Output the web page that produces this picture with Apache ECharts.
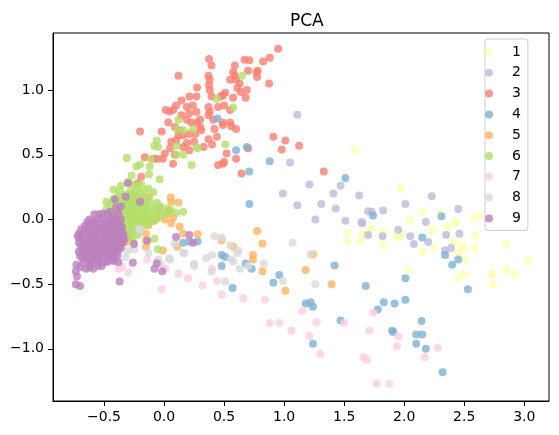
<!DOCTYPE html>
<html>
<head>
<meta charset="utf-8">
<script src="https://cdn.jsdelivr.net/npm/echarts@6/dist/echarts.min.js"></script>
<style>
  html, body { margin: 0; padding: 0; background: #fff; }
  #main { width: 559px; height: 435px; }
</style>
</head>
<body>
<div id="main"></div>
<script>
// class labels and colours (Set3)
var classNames = ['1', '2', '3', '4', '5', '6', '7', '8', '9'];
var classColors = ['#ffffb3', '#bebada', '#fb8072', '#80b1d3', '#fdb462',
                   '#b3de69', '#fccde5', '#d9d9d9', '#bc80bd'];

var xTicks = [-0.5, 0, 0.5, 1, 1.5, 2, 2.5, 3];
var yTicks = [-1, -0.5, 0, 0.5, 1];

// PCA coordinates per class
var cls1 = [[1.59,0.54],[1.97,0.24],[2.15,0.06],[2.30,0.05],[2.05,0.0],[2.43,-0.02],[2.58,0.01],
  [2.62,0.03],[1.725,-0.07],[1.525,-0.10],[1.525,-0.17],[1.63,-0.17],[1.66,-0.11],[1.825,-0.10],
  [1.83,-0.20],[1.94,-0.13],[1.96,-0.14],[2.24,-0.08],[2.36,-0.06],[2.25,-0.22],[2.15,-0.25],
  [2.41,-0.17],[2.50,-0.22],[2.59,-0.12],[2.59,-0.22],[2.45,-0.26],[2.51,-0.31],[2.04,-0.39],
  [2.45,-0.45],[2.50,-0.42],[2.73,-0.43],[2.74,-0.42],[2.74,-0.50],[2.85,-0.19],[2.85,-0.39],
  [2.92,-0.42],[3.03,-0.32],[2.42,-0.03],[1.98,-0.11],[1.69,-0.12],[2.47,-0.20]];

var cls2 = [[1.11,0.81],[1.05,0.44],[0.99,0.20],[1.11,0.11],[1.21,0.27],[1.31,0.12],[1.41,0.20],
  [1.47,0.26],[1.43,0.085],[1.625,0.185],[1.70,0.064],[1.73,0.06],[1.825,0.07],[2.01,0.12],
  [2.23,0.18],[2.45,0.08],[1.26,0.0],[1.51,-0.01],[1.645,-0.02],[1.65,-0.03],[1.70,-0.12],
  [1.82,-0.13],[1.95,-0.08],[2.05,-0.13],[2.08,-0.19],[2.20,-0.175],[2.18,-0.02],[2.35,-0.12],
  [2.46,-0.11],[2.34,-0.24],[2.39,-0.22]];

var cls3 = [[0.95,1.32],[0.88,1.25],[0.825,1.22],[0.71,1.23],[0.67,1.235],[0.375,1.24],[0.395,1.19],
  [0.59,1.19],[0.78,1.15],[0.77,1.135],[0.70,1.15],[0.575,1.14],[0.59,1.11],[0.12,1.11],[0.37,1.11],
  [0.38,1.08],[0.375,1.04],[0.55,1.08],[0.60,1.08],[0.775,1.10],[0.875,1.05],[0.63,1.05],[0.275,1.02],
  [0.38,1.0],[0.61,1.016],[0.64,0.985],[0.69,1.0],[0.51,0.98],[0.49,0.96],[0.47,0.95],[0.395,0.95],
  [0.27,0.95],[0.21,0.95],[0.575,0.94],[0.68,0.94],[0.145,0.92],[0.10,0.88],[0.075,0.845],[0.19,0.87],
  [0.24,0.88],[0.37,0.87],[0.38,0.83],[0.45,0.87],[0.50,0.88],[0.55,0.845],[0.014,0.845],[0.047,0.835],
  [0.145,0.805],[0.21,0.82],[0.27,0.83],[0.30,0.77],[0.275,0.75],[0.23,0.75],[0.19,0.77],[0.035,0.75],
  [0.37,0.805],[0.41,0.77],[0.42,0.70],[0.49,0.75],[0.49,0.73],[0.55,0.75],[0.56,0.72],[0.60,0.70],
  [-0.02,0.68],[0.09,0.715],[0.13,0.69],[0.16,0.65],[0.21,0.66],[0.30,0.715],[0.31,0.69],[0.37,0.62],
  [0.44,0.64],[0.10,0.61],[0.06,0.60],[0.19,0.59],[0.05,0.55],[0.09,0.50],[0.16,0.56],[0.21,0.535],
  [0.006,0.51],[-0.01,0.47],[-0.06,0.47],[0.075,0.43],[0.52,0.51],[0.49,0.43],[0.45,0.42],[0.60,0.47],
  [0.645,0.355],[0.91,0.64],[0.98,0.54],[1.01,0.61],[-0.20,0.68],[-0.16,0.48],[-0.09,0.47],[-0.19,0.33],
  [1.125,0.57],[1.33,0.37],[0.50,0.445],[0.70,0.55],[-0.22,0.28],[0.25,0.60],[0.33,0.56],[0.40,0.58],
  [0.12,0.65],[0.26,0.66]];

var cls4 = [[0.445,0.78],[0.60,0.535],[0.69,0.56],[0.88,0.45],[0.71,0.37],[0.71,0.12],[0.28,-0.17],
  [0.16,-0.18],[0.21,-0.17],[0.48,-0.275],[0.51,-0.29],[0.48,-0.36],[0.68,-0.34],[0.73,-0.38],
  [0.57,-0.53],[0.96,-0.43],[0.91,-0.49],[1.42,-0.355],[1.18,-0.65],[1.22,-0.64],[1.24,-0.675],
  [1.47,-0.78],[1.24,-0.96],[1.68,-0.515],[2.01,-0.455],[2.53,-0.54],[1.83,-0.64],[1.92,-0.65],
  [1.78,-0.695],[2.01,-0.62],[1.90,-0.86],[1.91,-0.87],[2.145,-0.785],[2.10,-0.89],[2.15,-0.89],
  [2.10,-0.96],[2.18,-1.0],[2.32,-1.18],[1.51,0.32],[1.74,0.03],[2.31,0.025],[2.15,-0.14],
  [2.34,-0.275],[2.45,-0.31],[2.40,-0.35]];

var cls5 = [[-0.125,0.175],[0.056,0.17],[0.06,0.135],[0.12,0.13],[0.033,0.046],[0.04,0.07],[0.075,0.015],
  [0.006,0.0],[0.06,-0.03],[0.13,-0.057],[-0.09,-0.01],[-0.06,0.008],[-0.15,-0.11],[-0.15,-0.21],
  [-0.33,-0.165],[-0.30,-0.17],[-0.13,-0.045],[-0.01,-0.24],[0.11,-0.21],[0.16,-0.11],[0.28,-0.115],
  [0.48,-0.16],[0.575,-0.21],[0.775,-0.09],[0.82,-0.185],[0.74,-0.275],[0.74,-0.31],[0.82,-0.40],
  [1.01,-0.55],[1.18,-0.39],[1.24,-0.27],[1.395,-0.50],[-0.15,-0.16],[-0.04,0.09]];

var cls6 = [[0.65,1.11],[0.44,0.93],[0.575,0.865],[0.12,0.77],[0.11,0.695],[0.16,0.69],[0.24,0.695],
  [0.51,0.58],[0.27,0.56],[0.28,0.55],[0.10,0.57],[0.16,0.50],[0.10,0.50],[0.23,0.42],[-0.06,0.61],
  [-0.05,0.56],[-0.08,0.57],[-0.11,0.47],[-0.20,0.425],[-0.23,0.41],[-0.31,0.475],[-0.12,0.41],
  [-0.125,0.35],[-0.27,0.34],[-0.036,0.31],[-0.36,0.26],[-0.42,0.23],[-0.48,0.136],[0.16,0.06],
  [-0.30,0.29],[-0.25,0.27],[-0.22,0.25],[-0.28,0.22],[-0.24,0.21],[-0.20,0.20],[-0.17,0.22],
  [-0.33,0.19],[-0.38,0.18],[-0.42,0.16],[-0.35,0.14],[-0.30,0.15],[-0.26,0.16],[-0.22,0.15],
  [-0.18,0.16],[-0.15,0.17],[-0.12,0.14],[-0.45,0.12],[-0.40,0.11],[-0.36,0.10],[-0.31,0.10],
  [-0.27,0.11],[-0.23,0.10],[-0.19,0.11],[-0.15,0.10],[-0.11,0.09],[-0.08,0.07],[-0.05,0.06],
  [-0.48,0.08],[-0.44,0.06],[-0.39,0.06],[-0.34,0.05],[-0.29,0.06],[-0.25,0.05],[-0.21,0.05],
  [-0.17,0.05],[-0.13,0.04],[-0.10,0.03],[-0.06,0.02],[-0.02,0.03],[0.01,0.05],[-0.42,0.01],
  [-0.37,0.01],[-0.32,0.0],[-0.28,0.01],[-0.24,0.0],[-0.20,0.0],[-0.16,-0.01],[-0.12,0.0],
  [-0.08,-0.01],[-0.35,-0.04],[-0.30,-0.04],[-0.26,-0.05],[-0.22,-0.04],[-0.18,-0.05],[-0.14,-0.04],
  [-0.32,-0.08],[-0.28,-0.09],[-0.24,-0.08],[-0.20,-0.09],[-0.27,-0.13],[-0.22,-0.12],[-0.30,-0.13],
  [-0.08,-0.15],[-0.05,-0.23],[-0.26,-0.16],[-0.32,-0.10],[-0.37,0.22],[-0.13,0.24],[-0.09,0.21],
  [-0.19,0.27],[0.06,0.07],[0.10,0.05],[-0.03,0.10],[0.03,0.085],[-0.06,0.13],
  [-0.34,0.12],[-0.29,0.13],[-0.24,0.13],[-0.20,0.13],[-0.16,0.13],[-0.33,0.08],[-0.28,0.08],
  [-0.23,0.07],[-0.18,0.08],[-0.14,0.07],[-0.30,0.03],[-0.26,0.03],[-0.22,0.02],[-0.18,0.02],
  [-0.14,0.02],[-0.28,-0.02],[-0.24,-0.02],[-0.20,-0.02],[-0.16,-0.03],[-0.26,-0.07],[-0.22,-0.06],
  [-0.33,0.03],[-0.38,0.04],[-0.40,0.14],[-0.27,0.19],[-0.23,0.18]];

var cls7 = [[0.12,-0.42],[0.20,-0.455],[0.32,-0.51],[0.44,-0.475],[0.48,-0.58],[0.66,-0.61],[0.84,-0.62],
  [0.88,-0.80],[0.96,-0.80],[1.06,-0.86],[1.15,-0.71],[1.27,-0.795],[1.21,-0.90],[1.30,-1.04],
  [1.50,-0.80],[-0.14,-0.31],[-0.38,-0.38],[-0.35,-0.365],[-0.02,-0.54],[0.40,-0.38],[0.01,-0.38],
  [1.74,-0.72],[1.71,-0.86],[1.95,-0.905],[1.94,-0.98],[1.66,-1.065],[1.69,-1.085],[2.28,-0.99],
  [2.17,-1.065],[1.77,-1.27],[1.875,-1.27],[-0.30,-0.41]];

var cls8 = [[-0.21,-0.07],[-0.25,-0.23],[-0.30,-0.24],[-0.32,-0.29],[-0.13,-0.26],[-0.05,-0.31],
  [-0.03,-0.34],[0.09,-0.185],[0.16,-0.26],[0.05,-0.31],[0.25,-0.345],[0.35,-0.30],[0.40,-0.275],
  [0.395,-0.405],[0.42,-0.13],[0.48,-0.14],[0.55,-0.20],[0.62,-0.24],[0.61,-0.26],[0.56,-0.31],
  [0.575,-0.325],[0.63,-0.38],[0.51,-0.48],[0.99,-0.475],[1.07,-0.18],[0.83,-0.34],[0.70,-0.36],
  [1.22,-0.27],[1.26,-0.50],[-0.20,-0.083],[0.04,-0.30],[0.17,-0.26],[0.25,-0.36]];

var cls9 = [[-0.58,0.04],[-0.54,0.04],[-0.47,0.04],[-0.51,0.046],[-0.45,0.06],[-0.38,0.046],[-0.42,0.02],
  [-0.62,0.0],[-0.57,-0.01],[-0.52,0.01],[-0.48,-0.01],[-0.44,0.0],[-0.40,-0.01],[-0.36,0.0],
  [-0.66,-0.05],[-0.61,-0.04],[-0.56,-0.06],[-0.51,-0.05],[-0.47,-0.06],[-0.43,-0.04],[-0.39,-0.05],[-0.35,-0.06],
  [-0.71,-0.11],[-0.67,-0.10],[-0.63,-0.09],[-0.59,-0.11],[-0.55,-0.10],[-0.50,-0.09],[-0.46,-0.11],
  [-0.42,-0.10],[-0.38,-0.09],[-0.34,-0.11],
  [-0.70,-0.15],[-0.65,-0.16],[-0.61,-0.14],[-0.57,-0.15],[-0.53,-0.16],[-0.49,-0.14],[-0.45,-0.15],
  [-0.41,-0.16],[-0.37,-0.14],[-0.33,-0.15],
  [-0.69,-0.21],[-0.64,-0.20],[-0.60,-0.19],[-0.56,-0.21],[-0.52,-0.20],[-0.48,-0.19],[-0.44,-0.21],
  [-0.40,-0.20],[-0.36,-0.19],
  [-0.71,-0.25],[-0.66,-0.26],[-0.62,-0.24],[-0.58,-0.25],[-0.54,-0.26],[-0.50,-0.24],[-0.46,-0.25],
  [-0.42,-0.26],[-0.38,-0.24],
  [-0.68,-0.30],[-0.63,-0.31],[-0.59,-0.29],[-0.55,-0.30],[-0.51,-0.33],[-0.44,-0.32],[-0.38,-0.33],
  [-0.47,-0.29],[-0.41,-0.29],
  [-0.73,-0.35],[-0.65,-0.38],[-0.59,-0.38],[-0.735,-0.40],[-0.725,-0.44],[-0.735,-0.50],[-0.70,-0.515],
  [-0.55,-0.36],[-0.62,-0.34],
  [-0.64,-0.02],[-0.59,-0.025],[-0.54,-0.02],[-0.50,-0.03],[-0.46,-0.02],[-0.41,-0.025],[-0.37,-0.03],
  [-0.69,-0.075],[-0.64,-0.07],[-0.58,-0.08],[-0.53,-0.07],[-0.48,-0.08],[-0.44,-0.07],[-0.40,-0.075],[-0.36,-0.08],
  [-0.72,-0.13],[-0.68,-0.125],[-0.62,-0.12],[-0.57,-0.13],[-0.52,-0.12],[-0.47,-0.13],[-0.43,-0.125],
  [-0.39,-0.12],[-0.35,-0.13],
  [-0.71,-0.18],[-0.67,-0.185],[-0.62,-0.17],[-0.58,-0.18],[-0.54,-0.185],[-0.50,-0.17],[-0.46,-0.18],
  [-0.42,-0.185],[-0.38,-0.17],[-0.34,-0.18],
  [-0.68,-0.23],[-0.63,-0.225],[-0.60,-0.23],[-0.56,-0.235],[-0.52,-0.22],[-0.48,-0.23],[-0.44,-0.235],
  [-0.40,-0.23],[-0.36,-0.22],
  [-0.70,-0.28],[-0.65,-0.28],[-0.61,-0.27],[-0.57,-0.28],[-0.53,-0.285],[-0.49,-0.27],[-0.45,-0.28],[-0.39,-0.28],
  [-0.67,-0.33],[-0.60,-0.33],[-0.56,-0.32],[-0.48,-0.33],[-0.42,-0.32],
  [-0.70,-0.37],[-0.62,-0.37],[-0.52,-0.36],
  [-0.30,0.28],[-0.20,0.136],[-0.32,0.175],[-0.41,0.155],[-0.25,-0.19],[-0.14,-0.165],[0.10,-0.135],
  [0.21,-0.12],[0.24,-0.18],[-0.06,-0.34],[-0.08,-0.38],[-0.015,-0.40],[-0.37,-0.48],[-0.26,-0.335],
  [-0.36,0.10],[-0.40,0.09]];

var classData = [cls1, cls2, cls3, cls4, cls5, cls6, cls7, cls8, cls9];

function tickText(v) {
    return (v < 0 ? '\u2212' : '') + Math.abs(v).toFixed(1);
}

var font = 'DejaVu Sans';
var myChart = echarts.init(document.getElementById('main'));

var series = classNames.map(function (name, i) {
    return {
        name: name,
        type: 'scatter',
        data: classData[i],
        symbolSize: 8,
        itemStyle: { color: classColors[i], opacity: 0.8 }
    };
});

var option = {
    animation: false,
    backgroundColor: '#fff',
    title: {
        text: 'PCA',
        left: 285,
        top: 8,
        textStyle: { fontFamily: font, fontSize: 17, fontWeight: 'normal', color: '#000' }
    },
    legend: {
        data: classNames,
        orient: 'vertical',
        left: 485,
        top: 39,
        icon: 'circle',
        itemWidth: 36,
        itemHeight: 8,
        itemGap: 6.8,
        padding: [6, 7, 5, 0],
        borderColor: '#cccccc',
        borderWidth: 1,
        borderRadius: 3,
        backgroundColor: 'rgba(255,255,255,0.8)',
        textStyle: { fontFamily: font, fontSize: 14, lineHeight: 14, color: '#000' }
    },
    grid: {
        left: 53,
        right: 10,
        top: 33,
        bottom: 34,
        show: true,
        borderColor: '#000',
        borderWidth: 1
    },
    xAxis: {
        type: 'value',
        min: -0.925,
        max: 3.206,
        axisLine: { onZero: false, lineStyle: { color: '#000' } },
        axisTick: { customValues: xTicks, length: 5, lineStyle: { color: '#000' } },
        axisLabel: {
            customValues: xTicks, formatter: tickText, margin: 9,
            fontFamily: font, fontSize: 14, color: '#000'
        },
        splitLine: { show: false }
    },
    yAxis: {
        type: 'value',
        min: -1.403,
        max: 1.441,
        axisLine: { show: true, onZero: false, lineStyle: { color: '#000' } },
        axisTick: { show: true, customValues: yTicks, length: 5, lineStyle: { color: '#000' } },
        axisLabel: {
            customValues: yTicks, formatter: tickText, margin: 9,
            fontFamily: font, fontSize: 14, color: '#000'
        },
        splitLine: { show: false }
    },
    series: series
};

myChart.setOption(option);
</script>
</body>
</html>
